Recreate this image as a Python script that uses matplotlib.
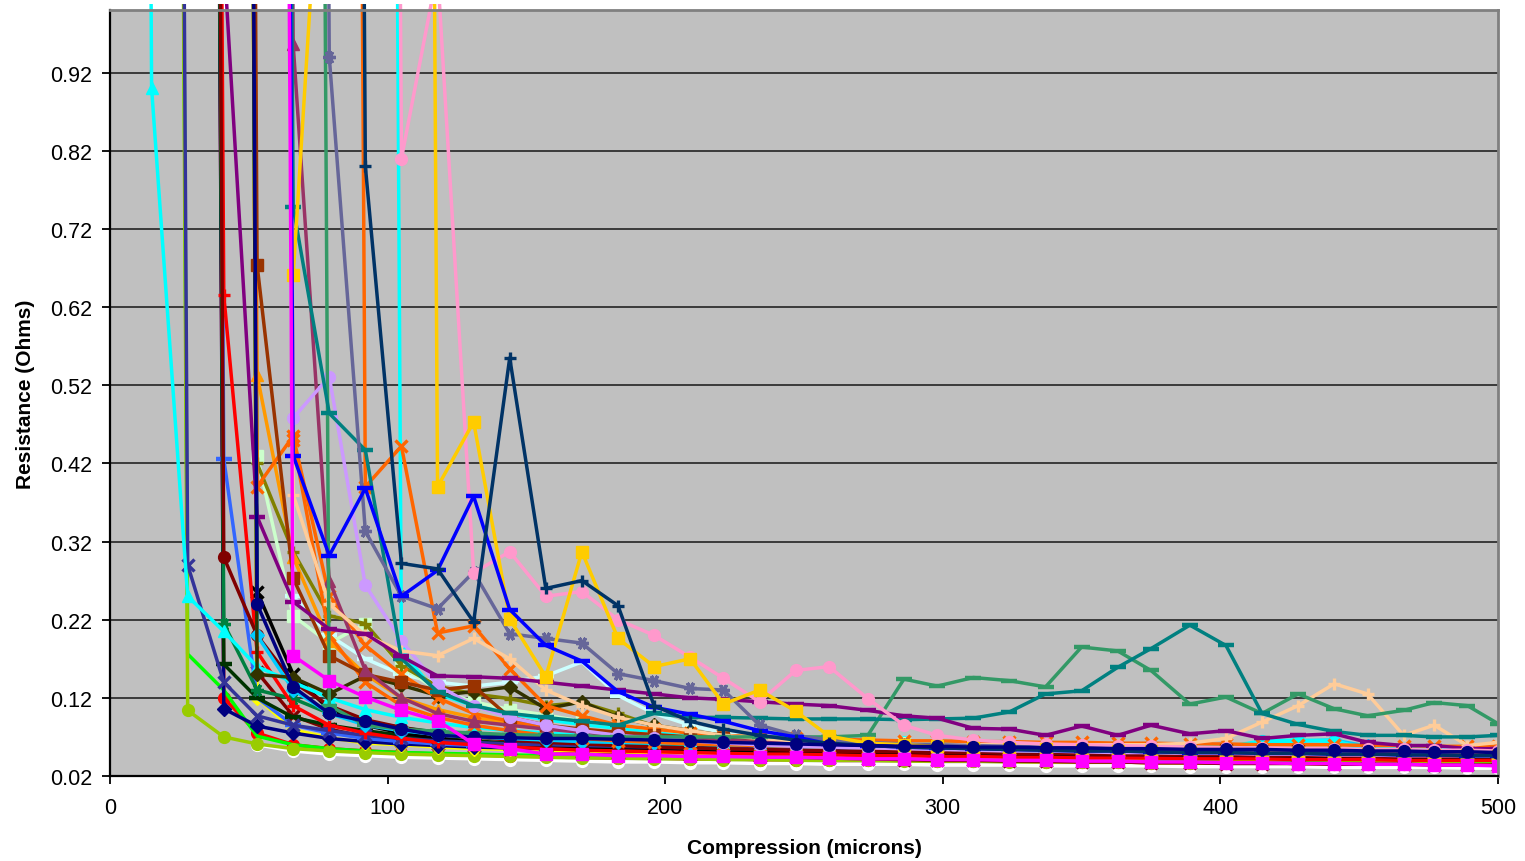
import numpy as np
import matplotlib
matplotlib.use('Agg')
import matplotlib.pyplot as plt
from matplotlib.patches import Rectangle

plt.rcParams['font.family'] = ['Liberation Sans', 'DejaVu Sans']

### Compression steps (microns) shared by every probe
compression = [2, 15, 28, 41, 53, 66, 79, 92, 105, 118,
               131, 144, 157, 170, 183, 196, 209, 221, 234, 247,
               259, 273, 286, 298, 311, 324, 337, 350, 363, 375,
               389, 402, 415, 428, 441, 453, 466, 477, 489, 500]

### Resistance readings (Ohms); first number = index of first reading
cyan_tri = (0, [9.0, 0.90, 0.25, 0.205, 0.16, 0.14, 0.12, 0.105, 0.095, 0.088,
                0.082, 0.078, 0.075, 0.072, 0.07, 0.068, 0.066, 0.064, 0.062, 0.06,
                0.058, 0.057, 0.056, 0.055, 0.054, 0.053, 0.052, 0.052, 0.051, 0.05,
                0.05, 0.049, 0.06, 0.065, 0.066, 0.052, 0.048, 0.047, 0.046, 0.045])
green = (1, [8.0, 0.176, 0.13, 0.071, 0.06, 0.055, 0.052, 0.05, 0.049,
             0.048, 0.047, 0.046, 0.046, 0.045, 0.045, 0.044, 0.044, 0.043, 0.043,
             0.042, 0.042, 0.042, 0.041, 0.041, 0.041, 0.04, 0.04, 0.04, 0.04,
             0.039, 0.039, 0.039, 0.039, 0.038, 0.038, 0.038, 0.038, 0.037, 0.037])
yellowgreen = (1, [8.0, 0.104, 0.07, 0.061, 0.055, 0.052, 0.05, 0.048, 0.047,
                   0.046, 0.045, 0.044, 0.043, 0.043, 0.042, 0.042, 0.041, 0.041, 0.04,
                   0.04, 0.04, 0.039, 0.039, 0.039, 0.038, 0.038, 0.038, 0.038, 0.037,
                   0.037, 0.037, 0.037, 0.036, 0.036, 0.036, 0.036, 0.036, 0.035, 0.035])
slate_x = (1, [8.0, 0.29, 0.14, 0.097, 0.085, 0.078, 0.072, 0.068, 0.065,
               0.063, 0.061, 0.06, 0.059, 0.058, 0.057, 0.056, 0.055, 0.055, 0.054,
               0.054, 0.053, 0.053, 0.052, 0.052, 0.051, 0.051, 0.05, 0.05, 0.05,
               0.049, 0.049, 0.049, 0.048, 0.048, 0.048, 0.047, 0.047, 0.047, 0.046])
red_plus = (2, [8.0, 0.635, 0.179, 0.11, 0.085, 0.075, 0.068, 0.063, 0.06, 0.057,
                0.055, 0.053, 0.052, 0.051, 0.05, 0.049, 0.048, 0.048, 0.047, 0.046,
                0.046, 0.045, 0.045, 0.044, 0.044, 0.043, 0.043, 0.043, 0.042, 0.042,
                0.042, 0.041, 0.041, 0.041, 0.04, 0.04, 0.04, 0.04])
red_low = (2, [8.0, 0.12, 0.075, 0.06, 0.055, 0.052, 0.05, 0.048, 0.047, 0.046,
               0.045, 0.044, 0.043, 0.043, 0.042, 0.042, 0.041, 0.041, 0.04, 0.04,
               0.04, 0.039, 0.039, 0.039, 0.038, 0.038, 0.038, 0.037, 0.037, 0.037,
               0.037, 0.036, 0.036, 0.036, 0.036, 0.035, 0.035, 0.035])
darkred_circle = (2, [8.0, 0.30, 0.20, 0.14, 0.11, 0.092, 0.082, 0.075, 0.07, 0.066,
                      0.063, 0.061, 0.059, 0.057, 0.056, 0.055, 0.054, 0.053, 0.052, 0.051,
                      0.051, 0.05, 0.05, 0.049, 0.049, 0.048, 0.048, 0.047, 0.047, 0.047,
                      0.046, 0.046, 0.046, 0.045, 0.045, 0.045, 0.044, 0.044])
darkred_x = (3, [8.0, 0.153, 0.097, 0.08, 0.07, 0.065, 0.061, 0.058, 0.055, 0.053,
                 0.051, 0.05, 0.048, 0.047, 0.046, 0.045, 0.044, 0.043, 0.042, 0.041,
                 0.04, 0.04, 0.039, 0.039, 0.038, 0.038, 0.037, 0.037, 0.036, 0.036,
                 0.036, 0.035, 0.035, 0.035, 0.034, 0.034, 0.034])
dkgreen_star = (2, [8.0, 0.215, 0.13, 0.119, 0.10, 0.09, 0.082, 0.076, 0.072, 0.069,
                    0.066, 0.064, 0.062, 0.06, 0.059, 0.058, 0.057, 0.056, 0.055, 0.055,
                    0.054, 0.054, 0.053, 0.053, 0.052, 0.052, 0.051, 0.051, 0.05, 0.05,
                    0.05, 0.049, 0.049, 0.049, 0.048, 0.048, 0.048, 0.047])
dkgreen_dash = (2, [8.0, 0.163, 0.12, 0.095, 0.085, 0.078, 0.072, 0.068, 0.065, 0.062,
                    0.06, 0.058, 0.057, 0.056, 0.055, 0.054, 0.053, 0.052, 0.052, 0.051,
                    0.051, 0.05, 0.05, 0.049, 0.049, 0.049, 0.048, 0.048, 0.048, 0.047,
                    0.047, 0.047, 0.046, 0.046, 0.046, 0.046, 0.045, 0.045])
navy_diamond = (2, [8.0, 0.106, 0.084, 0.075, 0.068, 0.064, 0.061, 0.059, 0.057, 0.056,
                    0.055, 0.054, 0.053, 0.052, 0.051, 0.05, 0.05, 0.049, 0.049, 0.048,
                    0.048, 0.047, 0.047, 0.046, 0.046, 0.046, 0.045, 0.045, 0.045, 0.044,
                    0.044, 0.044, 0.043, 0.043, 0.043, 0.043, 0.042, 0.042])
blue2 = (2, [8.0, 0.426, 0.12, 0.085, 0.075, 0.068, 0.064, 0.061, 0.059, 0.057,
             0.056, 0.055, 0.054, 0.053, 0.052, 0.052, 0.051, 0.05, 0.05, 0.049,
             0.049, 0.048, 0.048, 0.048, 0.047, 0.047, 0.047, 0.046, 0.046, 0.046,
             0.045, 0.045, 0.045, 0.045, 0.044, 0.044, 0.044, 0.044])
navy_circle = (3, [8.0, 0.24, 0.134, 0.10, 0.09, 0.08, 0.072, 0.07, 0.069, 0.068,
                   0.068, 0.067, 0.066, 0.065, 0.063, 0.062, 0.061, 0.06, 0.059, 0.058,
                   0.058, 0.057, 0.057, 0.056, 0.056, 0.055, 0.055, 0.054, 0.054, 0.054,
                   0.053, 0.053, 0.052, 0.052, 0.051, 0.051, 0.05])
black_x = (3, [8.0, 0.256, 0.15, 0.105, 0.085, 0.075, 0.068, 0.063, 0.06, 0.058,
               0.057, 0.056, 0.055, 0.054, 0.053, 0.052, 0.051, 0.05, 0.05, 0.049,
               0.049, 0.048, 0.048, 0.047, 0.047, 0.046, 0.046, 0.046, 0.045, 0.045,
               0.045, 0.044, 0.044, 0.044, 0.043, 0.043, 0.043])
brown_sq = (3, [8.0, 0.674, 0.273, 0.174, 0.15, 0.14, 0.13, 0.135, 0.095, 0.085,
                0.08, 0.076, 0.073, 0.07, 0.068, 0.066, 0.064, 0.062, 0.061, 0.06,
                0.059, 0.058, 0.057, 0.056, 0.055, 0.055, 0.054, 0.053, 0.053, 0.052,
                0.052, 0.051, 0.051, 0.05, 0.05, 0.05, 0.049])
pale_sq = (3, [8.0, 0.43, 0.225, 0.19, 0.215, 0.16, 0.13, 0.115, 0.105, 0.098,
               0.09, 0.085, 0.08, 0.075, 0.072, 0.07, 0.068, 0.066, 0.064, 0.062,
               0.06, 0.059, 0.058, 0.057, 0.056, 0.055, 0.054, 0.053, 0.052, 0.052,
               0.051, 0.051, 0.05, 0.05, 0.049, 0.049, 0.048])
orange_tri = (3, [8.0, 0.533, 0.30, 0.193, 0.15, 0.12, 0.105, 0.095, 0.088, 0.082,
                  0.078, 0.074, 0.071, 0.068, 0.066, 0.064, 0.062, 0.06, 0.059, 0.058,
                  0.057, 0.056, 0.055, 0.054, 0.053, 0.053, 0.052, 0.051, 0.051, 0.05,
                  0.05, 0.049, 0.049, 0.048, 0.048, 0.048, 0.047])
orange_a = (3, [8.0, 0.39, 0.455, 0.25, 0.187, 0.15, 0.12, 0.10, 0.09, 0.083,
                0.078, 0.074, 0.071, 0.068, 0.066, 0.064, 0.063, 0.062, 0.061, 0.06,
                0.059, 0.058, 0.057, 0.057, 0.056, 0.056, 0.055, 0.055, 0.054, 0.054,
                0.053, 0.053, 0.052, 0.052, 0.051, 0.051, 0.05])
orange_c = (4, [8.0, 0.45, 0.20, 0.14, 0.11, 0.095, 0.085, 0.078, 0.072, 0.068,
                0.065, 0.063, 0.061, 0.06, 0.059, 0.058, 0.057, 0.056, 0.055, 0.055,
                0.054, 0.054, 0.053, 0.053, 0.052, 0.052, 0.051, 0.051, 0.05, 0.05,
                0.05, 0.049, 0.049, 0.049, 0.048, 0.048])
orange_b = (6, [8.0, 0.39, 0.442, 0.203, 0.212, 0.157, 0.11, 0.097, 0.085, 0.08,
                0.075, 0.072, 0.07, 0.068, 0.067, 0.066, 0.065, 0.065, 0.064, 0.064,
                0.063, 0.063, 0.062, 0.062, 0.061, 0.061, 0.06, 0.06, 0.06, 0.059,
                0.059, 0.058, 0.058, 0.058])
blue_dash = (4, [8.0, 0.43, 0.302, 0.388, 0.25, 0.283, 0.378, 0.233, 0.187, 0.167,
                 0.128, 0.108, 0.099, 0.09, 0.078, 0.07, 0.061, 0.059, 0.057, 0.056,
                 0.055, 0.054, 0.053, 0.052, 0.052, 0.051, 0.05, 0.05, 0.049, 0.049,
                 0.048, 0.048, 0.047, 0.047, 0.046, 0.046])
navy_plus = (6, [8.0, 0.80, 0.292, 0.285, 0.217, 0.555, 0.26, 0.27, 0.238, 0.11,
                 0.09, 0.08, 0.072, 0.066, 0.062, 0.059, 0.057, 0.056, 0.055, 0.054,
                 0.053, 0.052, 0.052, 0.051, 0.05, 0.05, 0.049, 0.049, 0.048, 0.048,
                 0.047, 0.047, 0.046, 0.046])
gold_sq = (5, [0.661, 1.4, 8.0, 8.0, 0.39, 0.473, 0.221, 0.147, 0.307, 0.196,
               0.16, 0.17, 0.112, 0.13, 0.103, 0.071, 0.062, 0.06, 0.058, 0.056,
               0.055, 0.054, 0.053, 0.052, 0.052, 0.051, 0.05, 0.05, 0.049, 0.049,
               0.048, 0.048, 0.047, 0.047, 0.046])
pink_circle = (7, [8.0, 0.81, 1.05, 0.28, 0.307, 0.25, 0.256, 0.22, 0.20, 0.172,
                   0.145, 0.115, 0.155, 0.16, 0.119, 0.085, 0.072, 0.066, 0.063, 0.061,
                   0.06, 0.059, 0.058, 0.057, 0.056, 0.056, 0.055, 0.055, 0.054, 0.054,
                   0.053, 0.053, 0.052])
cyan2 = (7, [8.0, 0.18, 0.125, 0.11, 0.10, 0.092, 0.086, 0.081, 0.077, 0.074,
             0.071, 0.069, 0.067, 0.065, 0.064, 0.063, 0.062, 0.061, 0.06, 0.06,
             0.059, 0.059, 0.058, 0.058, 0.057, 0.065, 0.066, 0.064, 0.056, 0.055,
             0.055, 0.054, 0.054])
slate_star = (5, [8.0, 0.94, 0.333, 0.25, 0.234, 0.281, 0.202, 0.196, 0.19, 0.151,
                  0.142, 0.132, 0.13, 0.085, 0.072, 0.066, 0.063, 0.061, 0.06, 0.059,
                  0.058, 0.057, 0.056, 0.055, 0.055, 0.054, 0.053, 0.053, 0.052, 0.052,
                  0.051, 0.051, 0.05, 0.05, 0.05])
teal_dash = (4, [8.0, 0.748, 0.484, 0.437, 0.17, 0.128, 0.11, 0.10, 0.095, 0.09,
                 0.085, 0.10, 0.095, 0.095, 0.094, 0.093, 0.093, 0.093, 0.092, 0.093,
                 0.094, 0.102, 0.125, 0.129, 0.159, 0.183, 0.213, 0.187, 0.10, 0.086,
                 0.077, 0.072, 0.072, 0.07, 0.07, 0.072])
seagreen = (5, [8.0, 0.11, 0.085, 0.08, 0.077, 0.075, 0.073, 0.072, 0.071, 0.07,
                0.07, 0.07, 0.07, 0.07, 0.07, 0.07, 0.072, 0.144, 0.135, 0.146,
                0.142, 0.134, 0.185, 0.18, 0.155, 0.112, 0.121, 0.10, 0.125, 0.106,
                0.097, 0.104, 0.114, 0.11, 0.087])
peach = (4, [8.0, 0.38, 0.24, 0.20, 0.18, 0.174, 0.196, 0.17, 0.13, 0.11,
             0.095, 0.085, 0.078, 0.072, 0.068, 0.065, 0.063, 0.062, 0.061, 0.06,
             0.06, 0.06, 0.06, 0.06, 0.06, 0.06, 0.062, 0.068, 0.089, 0.11,
             0.138, 0.125, 0.072, 0.085, 0.059, 0.063])
purple_dash = (2, [8.0, 1.07, 0.352, 0.243, 0.208, 0.202, 0.173, 0.148, 0.147, 0.145,
                   0.14, 0.135, 0.13, 0.125, 0.12, 0.118, 0.115, 0.112, 0.11, 0.104,
                   0.097, 0.094, 0.081, 0.08, 0.072, 0.084, 0.072, 0.085, 0.074, 0.078,
                   0.068, 0.072, 0.074, 0.063, 0.059, 0.059, 0.055, 0.055])
lavender = (4, [8.0, 0.478, 0.531, 0.264, 0.193, 0.136, 0.11, 0.095, 0.085, 0.078,
                0.072, 0.068, 0.065, 0.062, 0.06, 0.058, 0.057, 0.056, 0.055, 0.054,
                0.053, 0.052, 0.052, 0.051, 0.05, 0.05, 0.049, 0.049, 0.048, 0.048,
                0.047, 0.047, 0.046, 0.046, 0.046, 0.045])
magenta_sq = (4, [8.0, 0.174, 0.142, 0.121, 0.104, 0.091, 0.061, 0.055, 0.048, 0.048,
                  0.046, 0.046, 0.045, 0.045, 0.044, 0.044, 0.043, 0.042, 0.042, 0.041,
                  0.041, 0.04, 0.04, 0.039, 0.039, 0.038, 0.038, 0.037, 0.037, 0.036,
                  0.036, 0.035, 0.035, 0.034, 0.034, 0.033])
white = (4, [0.06, 0.052, 0.048, 0.046, 0.044, 0.043, 0.042, 0.041, 0.04, 0.039,
             0.038, 0.038, 0.037, 0.037, 0.036, 0.036, 0.035, 0.035, 0.035, 0.034,
             0.034, 0.034, 0.033, 0.033, 0.033, 0.033, 0.032, 0.032, 0.032, 0.032,
             0.031, 0.031, 0.031, 0.031, 0.03, 0.03])
plum_tri = (4, [8.0, 0.956, 0.27, 0.155, 0.12, 0.10, 0.09, 0.085, 0.08, 0.076,
                0.072, 0.07, 0.068, 0.066, 0.064, 0.063, 0.062, 0.061, 0.06, 0.059,
                0.058, 0.057, 0.057, 0.056, 0.055, 0.055, 0.054, 0.054, 0.053, 0.053,
                0.052, 0.052, 0.051, 0.051, 0.05, 0.05])
yellow_diamond = (3, [8.0, 0.12, 0.079, 0.069, 0.062, 0.06, 0.057, 0.055, 0.054, 0.053,
                      0.052, 0.051, 0.05, 0.049, 0.048, 0.048, 0.047, 0.047, 0.046, 0.046,
                      0.045, 0.045, 0.044, 0.044, 0.044, 0.043, 0.043, 0.043, 0.042, 0.042,
                      0.042, 0.041, 0.041, 0.041, 0.04, 0.04, 0.04])
olive_plus = (3, [8.0, 0.42, 0.307, 0.225, 0.215, 0.161, 0.135, 0.125, 0.119, 0.11,
                  0.114, 0.10, 0.084, 0.074, 0.067, 0.063, 0.06, 0.058, 0.057, 0.056,
                  0.055, 0.054, 0.053, 0.053, 0.052, 0.052, 0.051, 0.051, 0.05, 0.05,
                  0.05, 0.049, 0.049, 0.049, 0.048, 0.048, 0.048])
dkolive_diamond = (3, [8.0, 0.15, 0.146, 0.125, 0.148, 0.136, 0.123, 0.128, 0.134, 0.106,
                       0.115, 0.095, 0.085, 0.078, 0.072, 0.068, 0.065, 0.063, 0.061, 0.06,
                       0.059, 0.058, 0.057, 0.056, 0.055, 0.055, 0.054, 0.054, 0.053, 0.053,
                       0.052, 0.052, 0.051, 0.051, 0.05, 0.05, 0.05])
pale_cyan = (4, [8.0, 0.25, 0.2, 0.17, 0.15, 0.14, 0.135, 0.14, 0.148, 0.166,
                 0.123, 0.10, 0.085, 0.075, 0.068, 0.064, 0.061, 0.059, 0.058, 0.057,
                 0.056, 0.055, 0.054, 0.054, 0.053, 0.053, 0.052, 0.052, 0.051, 0.051,
                 0.05, 0.05, 0.05, 0.049, 0.049, 0.049])
skyblue = (3, [8.0, 0.2, 0.13, 0.1, 0.085, 0.078, 0.073, 0.07, 0.068, 0.066,
               0.064, 0.063, 0.062, 0.061, 0.06, 0.059, 0.058, 0.057, 0.057, 0.056,
               0.056, 0.055, 0.055, 0.054, 0.054, 0.053, 0.053, 0.053, 0.052, 0.06,
               0.065, 0.066, 0.058, 0.052, 0.051, 0.051, 0.05])

### drawing order, colour, marker
star = (6, 2, 90)
series = [
  (white, '#FFFFFF', 'o'), (red_low, '#FF0000', 'o'), (green, '#00FF00', ''),
  (yellowgreen, '#99CC00', 'o'), (darkred_x, '#800000', 'x'),
  (yellow_diamond, '#FFFF00', 'D'), (navy_diamond, '#000080', 'D'),
  (blue2, '#3366FF', '_'), (dkgreen_dash, '#003300', '_'),
  (dkgreen_star, '#008040', star), (black_x, '#000000', 'x'),
  (slate_x, '#333399', 'x'), (red_plus, '#FF0000', '+'),
  (darkred_circle, '#800000', 'o'), (skyblue, '#00CCFF', 'D'),
  (cyan_tri, '#00FFFF', '^'), (cyan2, '#00FFFF', 'o'),
  (pale_cyan, '#CCFFFF', '_'), (pale_sq, '#CCFFCC', 's'),
  (olive_plus, '#808000', '+'), (dkolive_diamond, '#333300', 'D'),
  (orange_tri, '#FF9900', '^'), (orange_a, '#FF6600', 'x'),
  (orange_c, '#FF6600', 'x'), (orange_b, '#FF6600', 'x'),
  (brown_sq, '#993300', 's'), (plum_tri, '#993366', '^'),
  (lavender, '#CC99FF', 'o'), (peach, '#FFCC99', '+'),
  (seagreen, '#339966', '_'), (teal_dash, '#008080', '_'),
  (purple_dash, '#800080', '_'), (slate_star, '#666699', star),
  (pink_circle, '#FF99CC', 'o'), (gold_sq, '#FFCC00', 's'),
  (blue_dash, '#0000FF', '_'), (navy_plus, '#003366', '+'),
  (navy_circle, '#000080', 'o'), (magenta_sq, '#FF00FF', 's'),
]


def pad(start, vals):
  arr = np.full(len(compression), np.nan)
  arr[start:start + len(vals)] = vals
  return arr


fig = plt.figure(figsize=(15.25, 8.62), dpi=100)
ax = fig.add_axes([0.0721, 0.0986, 0.9102, 0.8886])
ax.set_facecolor('#C0C0C0')

clip = Rectangle((0, 0), 1, 1.008, transform=ax.transAxes)
for (start, vals), color, marker in series:
  y = pad(start, vals)
  if marker in ('x', '+', '_') or marker == star:
    size, mew = (12, 3.2) if marker == '_' else (9, 2.4)
    line, = ax.plot(compression, y, color=color, lw=2.5, marker=marker,
                    ms=size, mew=mew)
  else:
    size = 7.5 if marker == 'D' else 8.5
    line, = ax.plot(compression, y, color=color, lw=2.5, marker=marker,
                    ms=size, mec=color, mfc=color)
  line.set_clip_path(clip)

ax.set_xlim(0, 500)
ax.set_ylim(0.02, 1.0)
ax.set_xticks([0, 100, 200, 300, 400, 500])
yticks = [0.02, 0.12, 0.22, 0.32, 0.42, 0.52, 0.62, 0.72, 0.82, 0.92]
ax.set_yticks(yticks)
ax.set_yticklabels(['%.2f' % t for t in yticks])
ax.yaxis.grid(True, color='#3a3a3a', lw=1.4)
ax.set_axisbelow(True)

for side in ('left', 'bottom'):
  ax.spines[side].set_color('black')
  ax.spines[side].set_linewidth(1.6)
for side in ('top', 'right'):
  ax.spines[side].set_color('#808080')
  ax.spines[side].set_linewidth(2.0)

ax.tick_params(axis='both', direction='out', length=6, width=1.3,
               labelsize=15.5, colors='black')
ax.tick_params(axis='y', pad=7)
ax.tick_params(axis='x', pad=9)

ax.set_xlabel('Compression (microns)', fontsize=15, fontweight='bold')
ax.xaxis.set_label_coords(0.5, -0.0927)
ax.xaxis.label.set_va('center')
ax.set_ylabel('Resistance (Ohms)', fontsize=15, fontweight='bold')
ax.yaxis.set_label_coords(-0.0612, 0.5)
ax.yaxis.label.set_va('center')

plt.savefig('out.png', dpi=100)
